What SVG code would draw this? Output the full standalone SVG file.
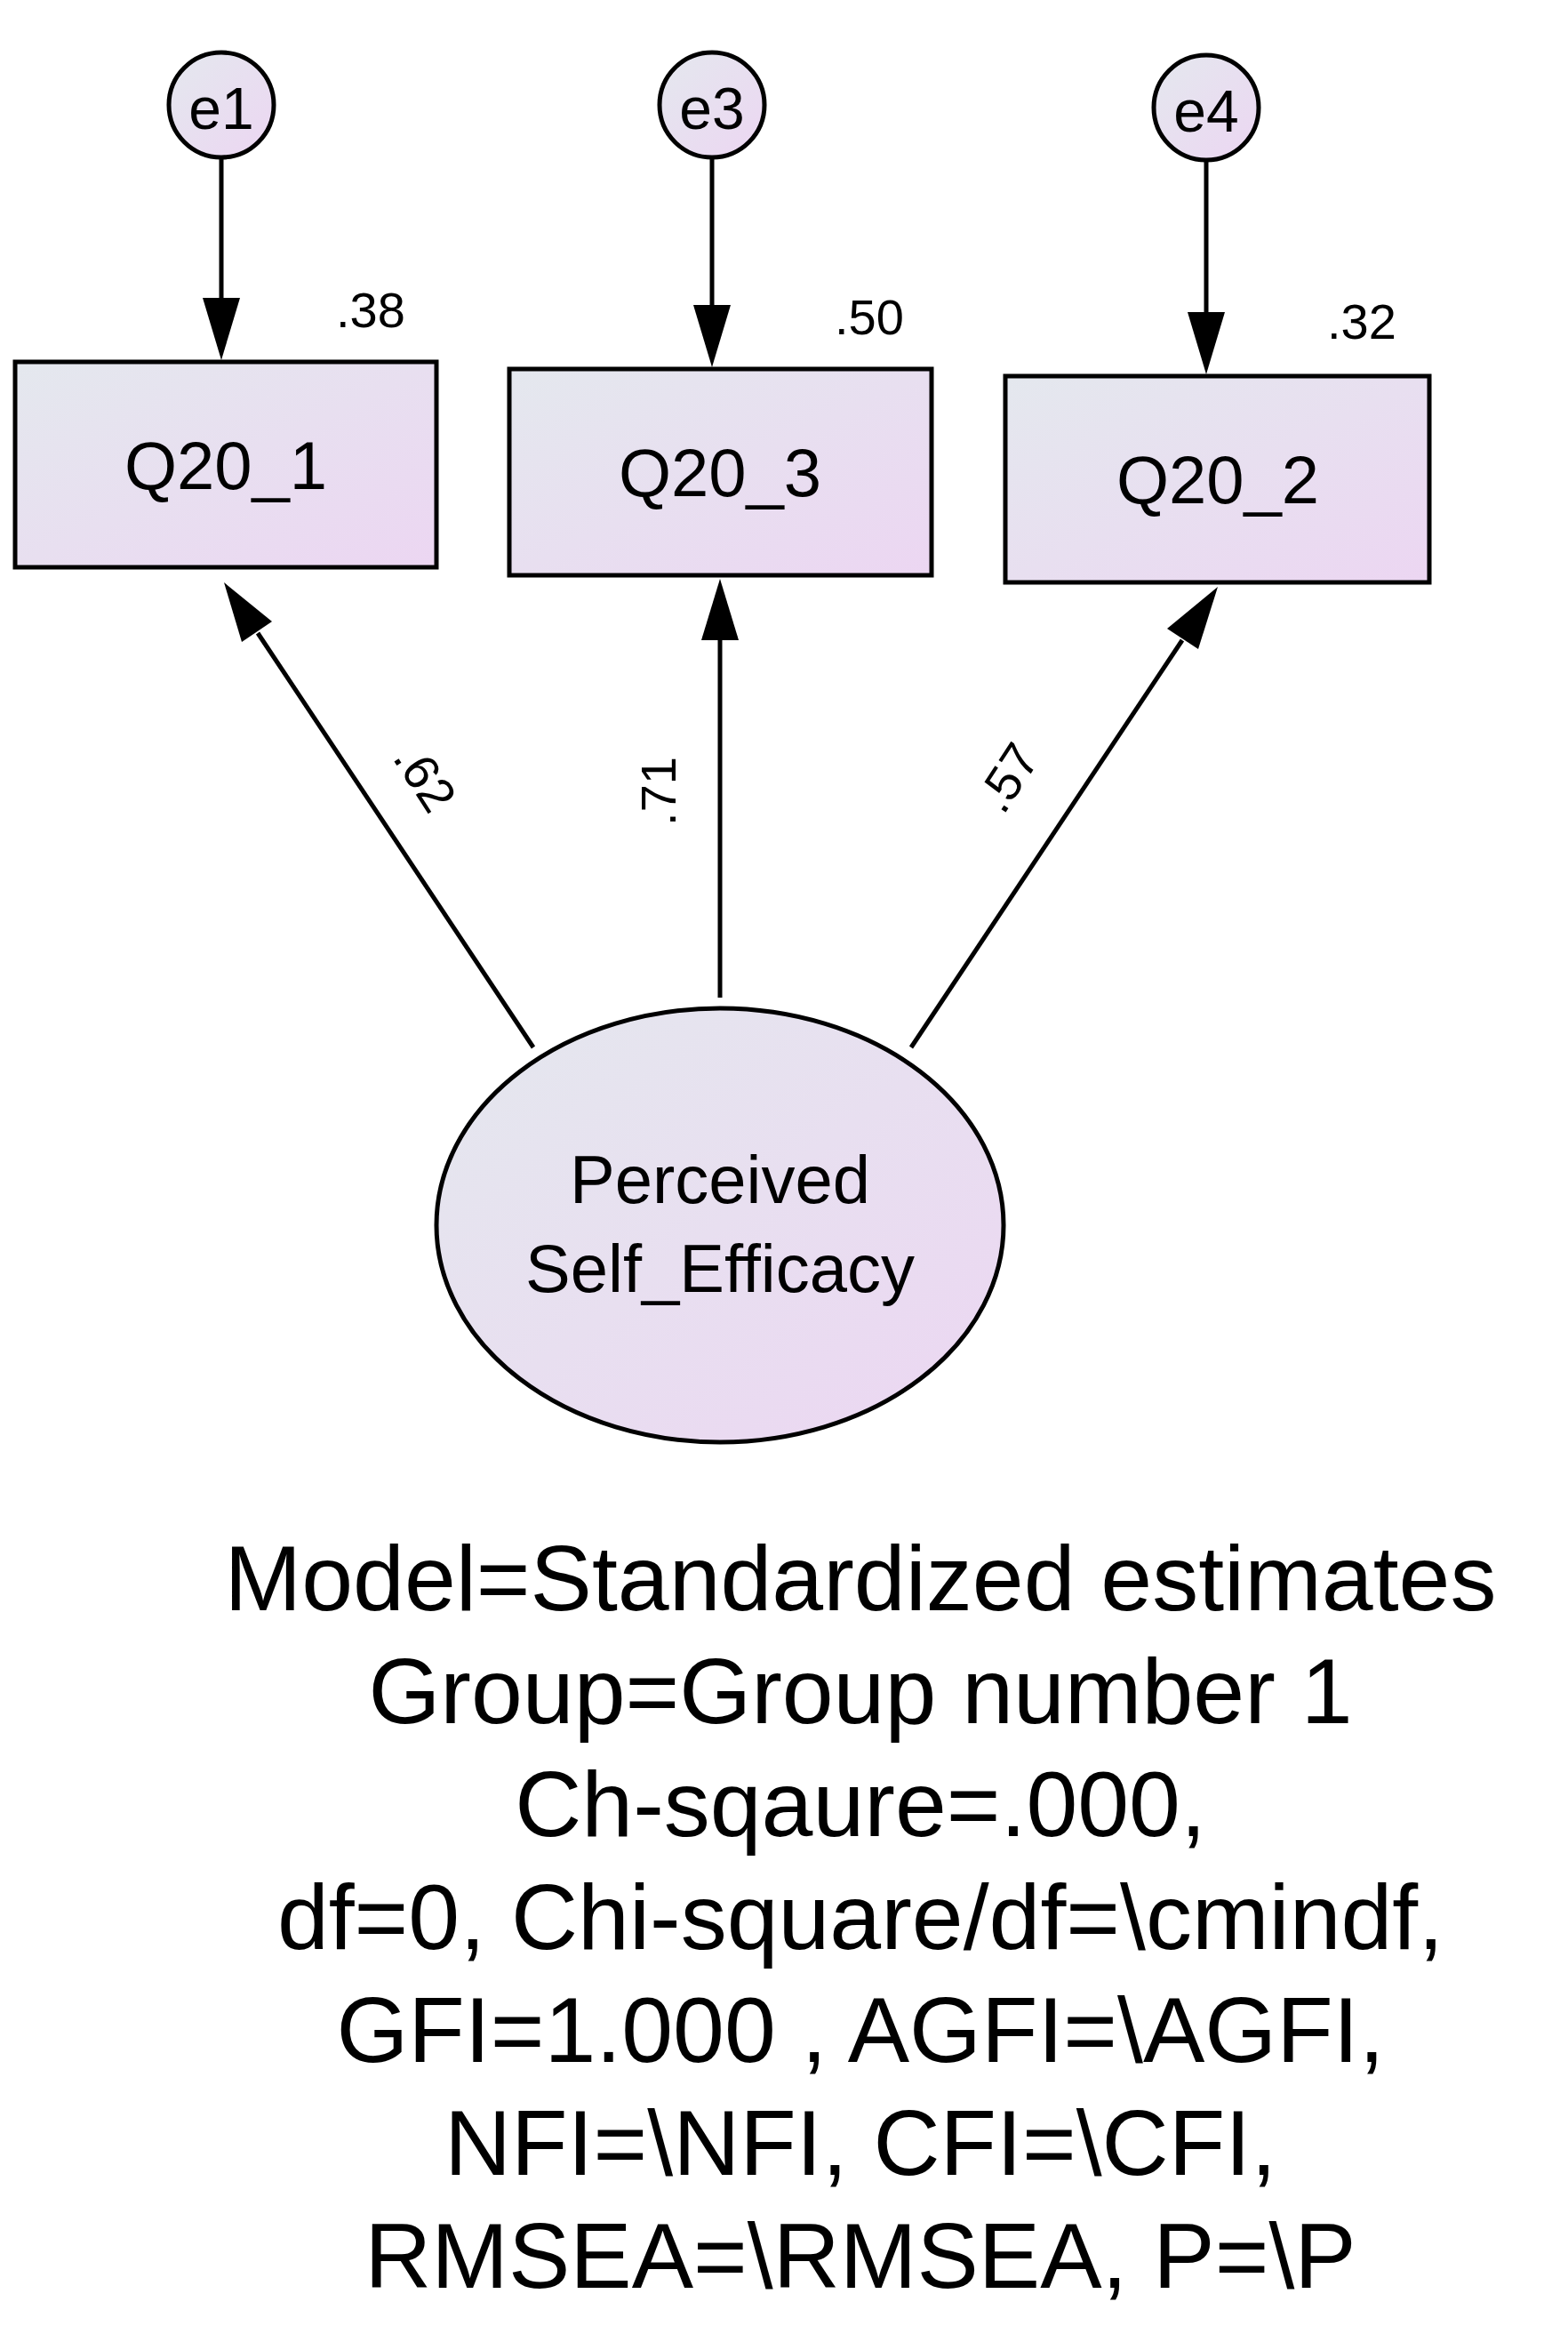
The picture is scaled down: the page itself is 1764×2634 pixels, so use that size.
<svg xmlns="http://www.w3.org/2000/svg" width="1764" height="2634" viewBox="0 0 1764 2634">
<defs>
<linearGradient id="g" x1="0" y1="0" x2="1" y2="1"><stop offset="0" stop-color="#e4e8ee"/><stop offset="1" stop-color="#ecd6f2"/></linearGradient>
<marker id="ah" viewBox="0 0 10 10" refX="10" refY="5" markerWidth="11" markerHeight="11" markerUnits="userSpaceOnUse" orient="auto"><path d="M0,0 L10,5 L0,10 z" fill="#000"/></marker>
<style>
.n{fill:url(#g);stroke:#000;stroke-width:5}
.c{stroke:#000;stroke-width:5;fill:none}
text{font-family:"Liberation Sans",Arial,sans-serif;fill:#000;text-anchor:middle}
.l{font-size:76px}
.s{font-size:56px}
.b{font-size:104px}
</style>
<marker id="a" viewBox="0 0 20 40" refX="40" refY="20" markerWidth="40" markerHeight="40" markerUnits="userSpaceOnUse" orient="auto"/>
</defs>
<g id="connectors">
<line class="c" x1="249" y1="177" x2="249" y2="335"/><path d="M228,335 L270,335 L249,405 z"/>
<line class="c" x1="801" y1="177" x2="801" y2="343"/><path d="M780,343 L822,343 L801,413 z"/>
<line class="c" x1="1357" y1="180" x2="1357" y2="351"/><path d="M1336,351 L1378,351 L1357,421 z"/>
<line class="c" x1="600" y1="1178" x2="290" y2="712"/><path d="M252,655 L306,699 L272,722 z"/>
<line class="c" x1="810" y1="1122" x2="810" y2="720"/><path d="M810,651 L831,720 L789,720 z"/>
<line class="c" x1="1025" y1="1178" x2="1330" y2="720"/><path d="M1370,660 L1348,730 L1313,707 z"/>
<text class="s" transform="translate(462,885) rotate(57)">.62</text>
<text class="s" transform="translate(760,890) rotate(-90)">.71</text>
<text class="s" transform="translate(1150,885) rotate(-57)">.57</text>
</g>
<g id="e1"><circle class="n" cx="249" cy="118" r="59"/><text class="l" x="249" y="145" style="font-size:66px">e1</text></g>
<g id="e3"><circle class="n" cx="801" cy="118" r="59"/><text class="l" x="801" y="145" style="font-size:66px">e3</text></g>
<g id="e4"><circle class="n" cx="1357" cy="121" r="59"/><text class="l" x="1357" y="148" style="font-size:66px">e4</text></g>
<g id="Q20_1"><rect class="n" x="17" y="407" width="474" height="231"/><text class="l" x="254" y="550">Q20_1</text><text class="s" x="417" y="368">.38</text></g>
<g id="Q20_3"><rect class="n" x="573" y="415" width="475" height="232"/><text class="l" x="810" y="558">Q20_3</text><text class="s" x="978" y="376">.50</text></g>
<g id="Q20_2"><rect class="n" x="1131" y="423" width="477" height="232"/><text class="l" x="1370" y="566">Q20_2</text><text class="s" x="1532" y="381">.32</text></g>
<g id="PSE"><ellipse class="n" cx="810" cy="1378" rx="319" ry="244"/><text class="l" x="810" y="1353">Perceived</text><text class="l" x="810" y="1453">Self_Efficacy</text></g>
<g id="caption" class="b">
<text class="b" x="968" y="1811">Model=Standardized estimates</text>
<text class="b" x="968" y="1938">Group=Group number 1</text>
<text class="b" x="968" y="2065">Ch-sqaure=.000,</text>
<text class="b" x="968" y="2192">df=0, Chi-square/df=\cmindf,</text>
<text class="b" x="968" y="2319">GFI=1.000 , AGFI=\AGFI,</text>
<text class="b" x="968" y="2446">NFI=\NFI, CFI=\CFI,</text>
<text class="b" x="968" y="2573">RMSEA=\RMSEA, P=\P</text>
</g>
</svg>
